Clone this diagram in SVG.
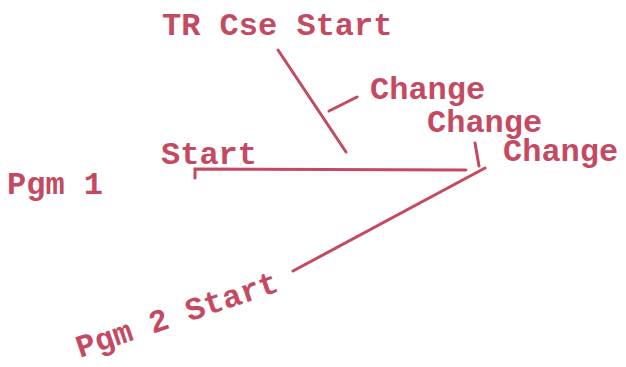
<svg xmlns="http://www.w3.org/2000/svg" width="626" height="367" viewBox="0 0 626 367">
<style>
text{font-family:"Liberation Mono","Courier New",monospace;font-weight:bold;font-size:32px;fill:#c44a62}
.ln{stroke:#c44a62;stroke-width:3;fill:none;stroke-linecap:round}
</style>
<rect width="626" height="367" fill="#ffffff"/>
<g id="connectors">
<path class="ln" d="M278,50 L346,152"/>
<path class="ln" d="M357,97 L329,111" stroke-width="2.5"/>
<path class="ln" d="M195,178 L195,169 L466,170"/>
<path class="ln" d="M475,143 L479,166"/>
<path class="ln" d="M485,168 L293,271"/>
</g>
<g id="tr-cse-start"><text x="162" y="35">TR Cse Start</text></g>
<g id="change1"><text x="370" y="99">Change</text></g>
<g id="change2"><text x="427" y="132">Change</text></g>
<g id="change3"><text x="503" y="161">Change</text></g>
<g id="start"><text x="161" y="164">Start</text></g>
<g id="pgm1"><text x="7" y="194" font-size="30">Pgm 1</text></g>
<g id="pgm2-start"><text transform="translate(80,358) rotate(-18.5)">Pgm 2 Start</text></g>
</svg>
